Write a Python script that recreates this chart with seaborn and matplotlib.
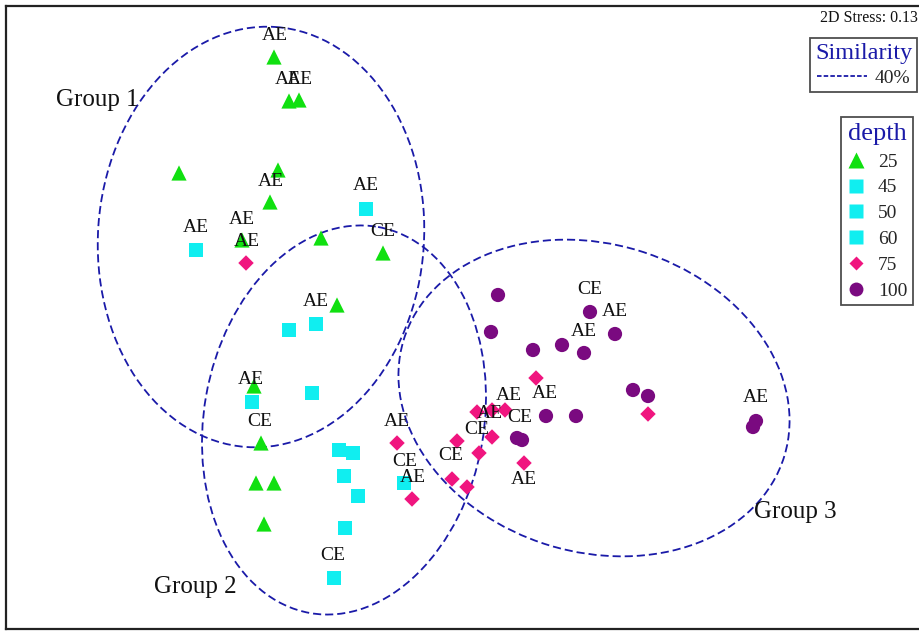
import matplotlib
matplotlib.use("Agg")
import matplotlib.pyplot as plt
import seaborn as sns
import pandas as pd
from matplotlib.patches import Ellipse
from matplotlib.lines import Line2D

# ---- ordination scores by depth (plot units) ----
d25_x = [274, 289, 299, 179, 278, 270, 242, 321, 383, 337, 254, 261, 256, 274, 264]
d25_y = [57, 101, 100, 173, 170, 202, 240, 238, 253, 305, 386, 443, 483, 483, 524]

d45_x = [366, 196, 289, 316, 252]
d45_y = [209, 250, 330, 324, 402]
d50_x = [312, 339, 353, 344]
d50_y = [393, 450, 453, 476]
d60_x = [358, 345, 334, 404]
d60_y = [496, 528, 578, 483]

d75_x = [246, 397, 412, 457, 452, 467, 479, 477, 492, 492, 505, 524, 536, 648]
d75_y = [263, 443, 499, 441, 479, 487, 453, 412, 410, 437, 410, 463, 378, 414]

d100_x = [498, 491, 533, 562, 584, 590, 615, 546, 576, 517, 522, 633, 648, 756, 753]
d100_y = [295, 332, 350, 345, 353, 312, 334, 416, 416, 438, 440, 390, 396, 421, 427]

# sample-type annotations
tag_text = ["AE", "AE", "AE", "AE", "AE", "AE", "AE", "AE", "CE", "AE",
            "AE", "CE", "CE", "AE", "CE", "AE", "CE", "CE", "AE", "AE",
            "CE", "AE", "AE", "AE", "CE", "AE", "AE"]
tag_x = [275, 288, 300, 271, 366, 196, 242, 247, 383, 316,
         251, 260, 333, 397, 405, 413, 451, 477, 490, 509,
         520, 524, 545, 584, 590, 615, 756]
tag_y = [36, 79, 79, 181, 186, 227, 219, 241, 231, 301,
         380, 421, 556, 421, 461, 477, 456, 430, 413, 396,
         417, 479, 393, 331, 290, 312, 398]

# 40% similarity clusters
group_names = ["Group 1", "Group 2", "Group 3"]
group_label_x = [97, 195, 795]
group_label_y = [100, 587, 512]
ell_cx = [261, 344, 594]
ell_cy = [237, 420, 398]
ell_w = [326, 280, 398]
ell_h = [421, 392, 308]
ell_angle = [4, 10, 17]

depth_levels = ["25", "45", "50", "60", "75", "100"]
depth_colors = {"25": "#10e010", "45": "#10eef0", "50": "#10eef0", "60": "#10eef0",
                "75": "#f0157f", "100": "#7a0a80"}
depth_markers = {"25": "^", "45": "s", "50": "s", "60": "s", "75": "D", "100": "o"}
depth_sizes = {"25": 120, "45": 95, "50": 95, "60": 95, "75": 62, "100": 105}

frames = []
for lvl, xs, ys in [("25", d25_x, d25_y), ("45", d45_x, d45_y), ("50", d50_x, d50_y),
                    ("60", d60_x, d60_y), ("75", d75_x, d75_y), ("100", d100_x, d100_y)]:
    frames.append(pd.DataFrame({"x": xs, "y": ys, "depth": lvl}))
df = pd.concat(frames, ignore_index=True)

sns.set_theme(style="white")
plt.rcParams["font.family"] = ["Liberation Serif", "DejaVu Serif"]

W, H = 919, 631
fig = plt.figure(figsize=(W / 100, H / 100), dpi=100)
fig.patch.set_facecolor("white")
ax = fig.add_axes([6 / W, (H - 629) / H, (930 - 6) / W, (629 - 6) / H])
ax.set_xlim(6, 930)
ax.set_ylim(629, 6)
ax.set_xticks([])
ax.set_yticks([])
for side in ["left", "top", "bottom"]:
    ax.spines[side].set_color("#222222")
    ax.spines[side].set_linewidth(1.6)
ax.spines["right"].set_visible(False)

blue = "#1a1aa8"
for cx, cy, w, h, a in zip(ell_cx, ell_cy, ell_w, ell_h, ell_angle):
    ax.add_patch(Ellipse((cx, cy), w, h, angle=a, fill=False, edgecolor=blue,
                         linewidth=1.3, linestyle=(0, (4.5, 2.2)), zorder=1))

for lvl in depth_levels:
    sub = df[df["depth"] == lvl]
    sns.scatterplot(data=sub, x="x", y="y", ax=ax, color=depth_colors[lvl],
                    marker=depth_markers[lvl], s=depth_sizes[lvl],
                    edgecolor="none", linewidth=0, legend=False, zorder=3)
ax.set_xlabel("")
ax.set_ylabel("")

for t, x, y in zip(tag_text, tag_x, tag_y):
    ax.text(x, y, t, ha="center", va="center", fontsize=14, color="#111111", zorder=4)

for name, x, y in zip(group_names, group_label_x, group_label_y):
    ax.text(x, y, name, ha="center", va="center", fontsize=18, color="#111111")

fig.text(1.0 - 1 / W, 1 - 18 / H, "2D Stress: 0.13", ha="right", va="center",
         fontsize=11.5, color="#111111")

# similarity legend
sim_handle = [Line2D([0], [0], color=blue, linewidth=1.3, linestyle=(0, (2.5, 1.2)))]
leg1 = ax.legend(sim_handle, ["40%"], title="Similarity", loc="upper right",
                 bbox_to_anchor=(917 / W, 1 - 38 / H), bbox_transform=fig.transFigure,
                 fancybox=False, frameon=True, fontsize=14, title_fontsize=17.5,
                 handlelength=2.6, handletextpad=0.4, borderpad=0.25,
                 borderaxespad=0, labelspacing=0.1)
leg1.get_title().set_color(blue)
leg1.get_frame().set_edgecolor("#222222")
leg1.get_frame().set_linewidth(1.3)
leg1._legend_box.sep = 4
ax.add_artist(leg1)

# depth legend
dep_handles = [Line2D([0], [0], linestyle="none", marker=depth_markers[l],
                      markerfacecolor=depth_colors[l], markeredgecolor="none",
                      markersize={"^": 11, "s": 9.5, "D": 7.5, "o": 10}[depth_markers[l]])
               for l in depth_levels]
leg2 = ax.legend(dep_handles, depth_levels, title="depth", loc="upper right",
                 bbox_to_anchor=(913 / W, 1 - 117 / H), bbox_transform=fig.transFigure,
                 fancybox=False, frameon=True, fontsize=14, title_fontsize=19,
                 handlelength=1.0, handletextpad=0.6, borderpad=0.3,
                 borderaxespad=0, labelspacing=0.42)
leg2.get_title().set_color(blue)
leg2.get_frame().set_edgecolor("#222222")
leg2.get_frame().set_linewidth(1.3)

fig.savefig("out.png", dpi=100, facecolor="white")
